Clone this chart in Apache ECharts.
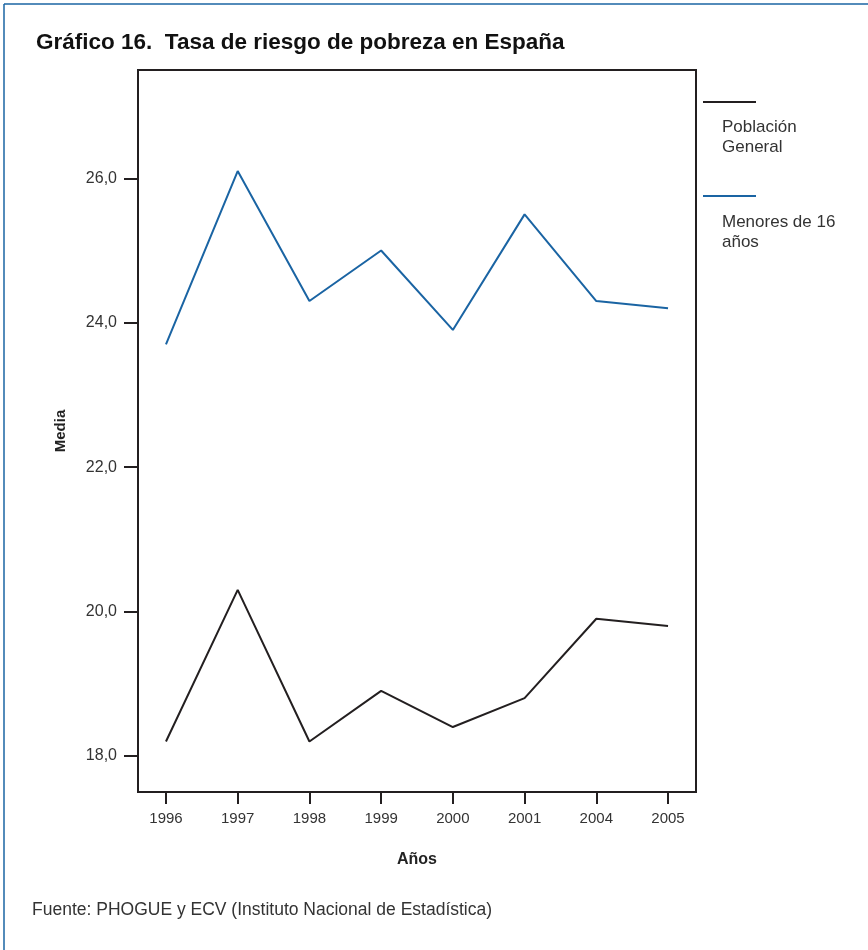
<!DOCTYPE html>
<html><head><meta charset="utf-8">
<script src="https://cdn.jsdelivr.net/npm/echarts@6/dist/echarts.min.js"></script>
<style>html,body{margin:0;padding:0;background:#fff;}#c{width:868px;height:950px;}</style>
</head><body><div id="c"></div>
<script>
const years = ['1996','1997','1998','1999','2000','2001','2004','2005'];
const poblacionGeneral = [18.2, 20.3, 18.2, 18.9, 18.4, 18.8, 19.9, 19.8];
const menores16 = [23.7, 26.1, 24.3, 25.0, 23.9, 25.5, 24.3, 24.2];
const yTicks = [18, 20, 22, 24, 26];
const seriesNames = ['Población\nGeneral', 'Menores de 16\naños'];

const BLUE = '#1a64a3', BLACK = '#231f20';
const font = 'Liberation Sans, Arial, Helvetica, sans-serif';
const idx = years.map((_, i) => i);
const chart = echarts.init(document.getElementById('c'), null, {renderer: 'canvas'});
chart.setOption({
  animation: false,
  backgroundColor: '#fff',
  textStyle: {fontFamily: font},
  title: {
    text: 'Gráfico 16.  Tasa de riesgo de pobreza en España',
    left: 31, top: 26,
    textStyle: {fontSize: 22.5, fontWeight: 'bold', color: '#111', fontFamily: font}
  },
  grid: {left: 138, top: 70, right: 172, bottom: 158, show: true, borderColor: BLACK, borderWidth: 2},
  xAxis: {
    type: 'value', min: -0.39, max: 7.39,
    name: 'Años', nameLocation: 'middle', nameGap: 60,
    nameTextStyle: {fontSize: 16, fontWeight: 'bold', color: '#222'},
    axisLine: {show: true, onZero: false, lineStyle: {color: BLACK, width: 2}},
    axisTick: {show: true, length: 12, lineStyle: {color: BLACK, width: 2}, customValues: idx},
    axisLabel: {customValues: idx, margin: 19, fontSize: 15, color: '#333',
      formatter: v => years[Math.round(v)]},
    splitLine: {show: false}
  },
  yAxis: {
    type: 'value', min: 17.5, max: 27.5,
    name: 'Media', nameLocation: 'middle', nameGap: 70, nameRotate: 90,
    nameTextStyle: {fontSize: 15, fontWeight: 'bold', color: '#222'},
    axisLine: {show: true, onZero: false, lineStyle: {color: BLACK, width: 2}},
    axisTick: {show: true, length: 14, lineStyle: {color: BLACK, width: 2}, customValues: yTicks},
    axisLabel: {customValues: yTicks, margin: 21, fontSize: 16, color: '#333',
      formatter: v => v.toFixed(1).replace('.', ',')},
    splitLine: {show: false}
  },
  series: [
    {name: seriesNames[0], type: 'line', data: poblacionGeneral.map((v, i) => [i, v]),
      symbol: 'none', lineStyle: {color: BLACK, width: 2}},
    {name: seriesNames[1], type: 'line', data: menores16.map((v, i) => [i, v]),
      symbol: 'none', lineStyle: {color: BLUE, width: 2}}
  ],
  graphic: [
    {type: 'line', shape: {x1: 4, y1: 4, x2: 868, y2: 4}, style: {stroke: BLUE, lineWidth: 1.5}},
    {type: 'line', shape: {x1: 4, y1: 4, x2: 4, y2: 950}, style: {stroke: BLUE, lineWidth: 1.5}},
    {type: 'line', shape: {x1: 703, y1: 102, x2: 756, y2: 102}, style: {stroke: BLACK, lineWidth: 2}},
    {type: 'text', left: 722, top: 117, style: {text: seriesNames[0], font: '17px ' + font, fill: '#333', lineHeight: 20}},
    {type: 'line', shape: {x1: 703, y1: 196, x2: 756, y2: 196}, style: {stroke: BLUE, lineWidth: 2}},
    {type: 'text', left: 722, top: 212, style: {text: seriesNames[1], font: '17px ' + font, fill: '#333', lineHeight: 20}},
    {type: 'text', left: 32, top: 901, style: {text: 'Fuente: PHOGUE y ECV (Instituto Nacional de Estadística)', font: '17.5px ' + font, fill: '#333'}}
  ]
});
</script></body></html>
